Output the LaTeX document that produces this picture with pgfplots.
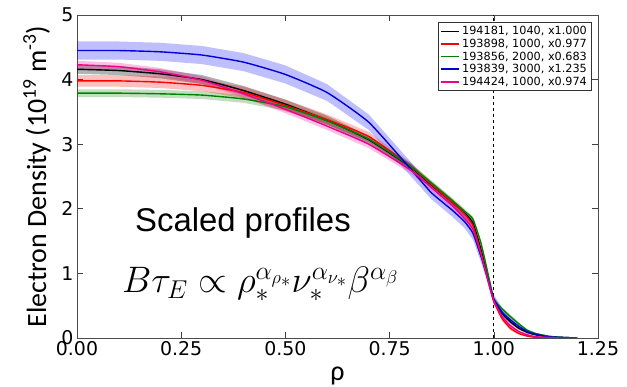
\RequirePackage{fix-cm}
\documentclass[border=0pt]{standalone}
\usepackage{fontspec}
\setmainfont{DejaVu Sans}
\newfontfamily\arialfont{Liberation Sans}
\newfontfamily\califont{Carlito}
\usepackage{pgfplots}
\pgfplotsset{compat=1.18}
\usepgfplotslibrary{fillbetween}
\usepackage{pgfplotstable}

\pgfplotstableread{
x y e
0 4.16 0.07
0.1 4.14 0.07
0.2 4.09 0.07
0.3 4.00 0.07
0.4 3.83 0.07
0.5 3.62 0.07
0.6 3.37 0.07
0.7 3.07 0.06
0.8 2.65 0.05
0.85 2.37 0.05
0.9 2.10 0.05
0.93 1.93 0.05
0.95 1.78 0.05
0.97 1.35 0.05
0.99 0.82 0.05
1.0 0.58 0.05
1.02 0.38 0.04
1.04 0.25 0.03
1.06 0.15 0.02
1.08 0.09 0.02
1.1 0.05 0.01
1.13 0.02 0.01
1.16 0.01 0.005
1.2 0.0 0.0
}\blackdata

\pgfplotstableread{
x y e
0 3.98 0.09
0.1 3.98 0.09
0.2 3.96 0.09
0.3 3.91 0.09
0.4 3.80 0.09
0.5 3.60 0.09
0.6 3.38 0.08
0.7 3.12 0.07
0.8 2.66 0.06
0.85 2.38 0.05
0.9 2.10 0.05
0.93 1.92 0.05
0.95 1.74 0.05
0.97 1.30 0.05
0.99 0.80 0.05
1.0 0.57 0.05
1.02 0.30 0.04
1.04 0.15 0.03
1.06 0.07 0.02
1.08 0.03 0.01
1.1 0.01 0.01
1.13 0.0 0.0
1.16 0.0 0.0
1.2 0.0 0.0
}\reddata

\pgfplotstableread{
x y e
0 3.79 0.06
0.1 3.79 0.06
0.2 3.78 0.06
0.3 3.76 0.06
0.4 3.70 0.06
0.5 3.58 0.06
0.6 3.36 0.05
0.7 3.08 0.05
0.8 2.66 0.04
0.85 2.40 0.04
0.9 2.13 0.04
0.93 1.96 0.04
0.95 1.84 0.04
0.97 1.45 0.04
0.99 0.88 0.04
1.0 0.60 0.04
1.02 0.45 0.03
1.04 0.33 0.03
1.06 0.22 0.02
1.08 0.12 0.02
1.1 0.07 0.01
1.13 0.03 0.01
1.16 0.01 0.005
1.2 0.0 0.0
}\greendata

\pgfplotstableread{
x y e
0 4.45 0.14
0.1 4.45 0.14
0.2 4.43 0.14
0.3 4.38 0.14
0.4 4.27 0.14
0.5 4.08 0.14
0.6 3.80 0.13
0.7 3.34 0.12
0.8 2.62 0.11
0.85 2.25 0.10
0.9 1.98 0.10
0.93 1.80 0.10
0.95 1.62 0.10
0.97 1.25 0.09
0.99 0.82 0.08
1.0 0.60 0.07
1.02 0.40 0.06
1.04 0.28 0.05
1.06 0.18 0.04
1.08 0.10 0.03
1.1 0.06 0.02
1.13 0.02 0.01
1.16 0.01 0.005
1.2 0.0 0.0
}\bluedata

\pgfplotstableread{
x y e
0 4.23 0.06
0.1 4.20 0.06
0.2 4.12 0.06
0.3 3.99 0.06
0.4 3.78 0.06
0.5 3.54 0.06
0.6 3.28 0.06
0.7 3.00 0.06
0.8 2.60 0.05
0.85 2.33 0.05
0.9 2.05 0.05
0.93 1.85 0.05
0.95 1.68 0.05
0.97 1.28 0.05
0.99 0.80 0.05
1.0 0.58 0.05
1.02 0.33 0.04
1.04 0.19 0.03
1.06 0.10 0.02
1.08 0.05 0.02
1.1 0.02 0.01
1.13 0.01 0.005
1.16 0.0 0.0
1.2 0.0 0.0
}\magentadata

\definecolor{mgreen}{rgb}{0,0.5,0}

\begin{document}
\begin{tikzpicture}
\begin{axis}[
  scale only axis,
  width=521bp, height=323bp,
  xmin=0, xmax=1.25, ymin=0, ymax=5,
  xtick={0,0.25,0.5,0.75,1.0,1.25},
  ytick={0,1,2,3,4,5},
  xticklabel style={/pgf/number format/fixed, /pgf/number format/fixed zerofill, /pgf/number format/precision=2},
  /pgf/number format/assume math mode=true,
  tick align=inside,
  major tick length=6bp,
  tick style={black!75, line width=0.6pt},
  axis line style={black!70, line width=0.9pt},
  ticklabel style={font=\fontsize{19}{22}\selectfont},
  xlabel={ρ},
  ylabel={Electron Density (10\textsuperscript{19} m\textsuperscript{-3})},
  label style={font=\califont\fontsize{28}{32}\selectfont},
  xlabel style={yshift=-4bp},
  ylabel style={yshift=4bp},
  clip=true,
  legend style={at={(0.987,0.978)}, anchor=north east, font=\fontsize{11.3}{13}\selectfont,
    draw=black!80, line width=0.6pt, inner sep=2pt, row sep=-1.2pt, legend cell align=left},
  legend image code/.code={\draw[#1, sharp plot, line width=1.6pt] (0bp,0bp) -- (18bp,0bp);},
]
% bands
\addplot[draw=none, name path=kU, forget plot] table[x=x, y expr=\thisrow{y}+\thisrow{e}] {\blackdata};
\addplot[draw=none, name path=kL, forget plot] table[x=x, y expr=\thisrow{y}-\thisrow{e}] {\blackdata};
\addplot[fill=black, fill opacity=0.3, draw=none, forget plot] fill between[of=kU and kL];
\addplot[draw=none, name path=rU, forget plot] table[x=x, y expr=\thisrow{y}+\thisrow{e}] {\reddata};
\addplot[draw=none, name path=rL, forget plot] table[x=x, y expr=\thisrow{y}-\thisrow{e}] {\reddata};
\addplot[fill=red, fill opacity=0.25, draw=none, forget plot] fill between[of=rU and rL];
\addplot[draw=none, name path=gU, forget plot] table[x=x, y expr=\thisrow{y}+\thisrow{e}] {\greendata};
\addplot[draw=none, name path=gL, forget plot] table[x=x, y expr=\thisrow{y}-\thisrow{e}] {\greendata};
\addplot[fill=mgreen, fill opacity=0.25, draw=none, forget plot] fill between[of=gU and gL];
\addplot[draw=none, name path=bU, forget plot] table[x=x, y expr=\thisrow{y}+\thisrow{e}] {\bluedata};
\addplot[draw=none, name path=bL, forget plot] table[x=x, y expr=\thisrow{y}-\thisrow{e}] {\bluedata};
\addplot[fill=blue, fill opacity=0.25, draw=none, forget plot] fill between[of=bU and bL];
\addplot[draw=none, name path=mU, forget plot] table[x=x, y expr=\thisrow{y}+\thisrow{e}] {\magentadata};
\addplot[draw=none, name path=mL, forget plot] table[x=x, y expr=\thisrow{y}-\thisrow{e}] {\magentadata};
\addplot[fill=magenta, fill opacity=0.25, draw=none, forget plot] fill between[of=mU and mL];
% dashed separatrix
\addplot[black, dashed, line width=1pt, forget plot] coordinates {(1,0) (1,5)};
% lines
\addplot[black, line width=1.4pt, smooth, tension=0.3] table[x=x, y=y] {\blackdata};
\addlegendentry{194181, 1040, x1.000}
\addplot[red, line width=1.4pt, smooth, tension=0.3] table[x=x, y=y] {\reddata};
\addlegendentry{193898, 1000, x0.977}
\addplot[mgreen, line width=1.4pt, smooth, tension=0.3] table[x=x, y=y] {\greendata};
\addlegendentry{193856, 2000, x0.683}
\addplot[blue!85!black, line width=1.4pt, smooth, tension=0.3] table[x=x, y=y] {\bluedata};
\addlegendentry{193839, 3000, x1.235}
\addplot[magenta, line width=1.4pt, smooth, tension=0.3] table[x=x, y=y] {\magentadata};
\addlegendentry{194424, 1000, x0.974}
\node[anchor=base west, inner sep=0pt, font=\arialfont\fontsize{33}{36}\selectfont] at (axis cs:0.139,1.65) {Scaled profiles};
\node[anchor=base west, inner sep=0pt, font=\fontsize{37}{40}\selectfont] at (axis cs:0.108,0.70) {$B\tau_E \propto \rho_*^{\alpha_{\rho_*}} \nu_*^{\alpha_{\nu_*}} \beta^{\alpha_\beta}$};
\end{axis}
\pgfresetboundingbox
\path[use as bounding box] ([xshift=-77bp,yshift=-49bp]current axis.south west) rectangle ([xshift=29bp,yshift=15bp]current axis.north east);
\end{tikzpicture}
\end{document}
